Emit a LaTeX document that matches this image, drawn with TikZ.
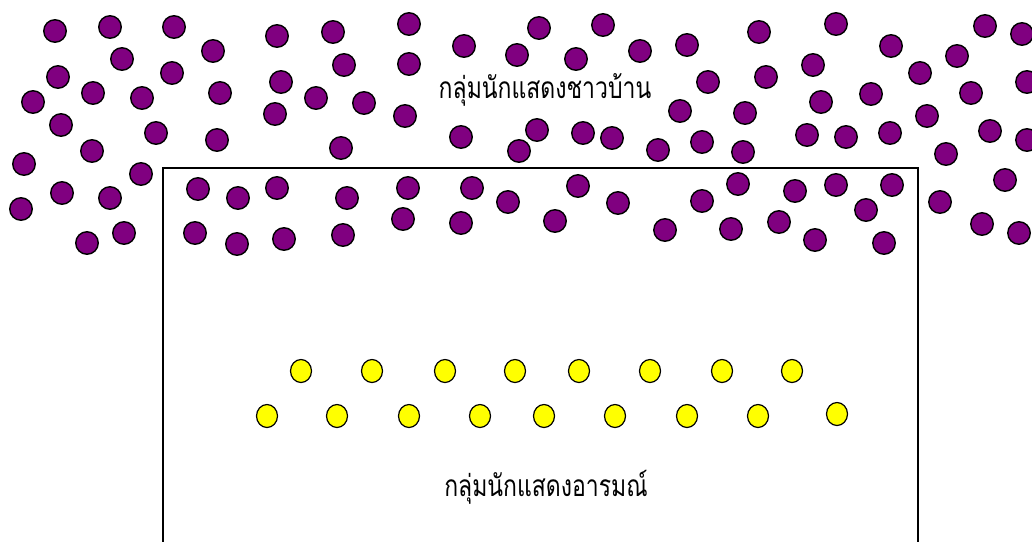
\documentclass[tikz,border=0pt]{standalone}
\usepackage{fontspec}
\usetikzlibrary{shapes.geometric}
\newfontfamily\thaifont[Script=Thai]{Loma}
\definecolor{vpurple}{HTML}{800080}
\definecolor{eyellow}{HTML}{FFFF00}
\begin{document}
\begin{tikzpicture}[x=1pt,y=-1pt,
  villager/.style={circle,draw=black,line width=1.4pt,fill=vpurple,minimum size=22.5pt,inner sep=0pt},
  emoter/.style={ellipse,draw=black,line width=1.2pt,fill=eyellow,minimum width=21pt,minimum height=23pt,inner sep=0pt},
  label/.style={font=\thaifont\fontsize{23}{26}\selectfont,inner sep=0pt}]
\useasboundingbox (0,0) rectangle (1032,541);
\clip (0,0) rectangle (1032,541);
\draw[line width=1.3pt] (163,560) -- (163,168) -- (918,168) -- (918,560);
\foreach \x/\y [count=\i] in {55/31,110/27,174/27,213/51,277/36,333/32,344/65,122/59,58/77,172/73,93/93,142/98,220/93,281/82,316/98,33/102,61/125,156/133,217/140,275/114,341/148,92/151,24/164,141/174,62/193,110/198,21/209,124/233,87/243,
409/24,464/46,539/28,603/25,517/55,576/59,640/51,687/45,409/64,364/103,405/116,680/111,461/137,537/130,583/133,612/138,519/151,658/150,
759/32,836/24,891/46,985/26,1022/34,708/82,766/77,813/65,920/73,957/56,745/113,821/102,871/94,971/93,1027/82,702/142,743/152,807/135,846/137,890/133,927/116,990/131,1027/140,946/154,
1005/180,940/202,982/224,1019/233,
198/189,238/198,277/188,347/198,195/233,237/244,284/239,343/235,408/188,472/188,508/202,578/186,618/203,403/219,461/223,555/221,665/230,702/201,738/184,795/191,836/185,892/185,866/210,731/229,779/222,815/240,884/243}
  \node[villager] (v\i) at (\x,\y) {};
\foreach \x [count=\i] in {301,372,445,515,579,650,722,792}
  \node[emoter] (a\i) at (\x,371) {};
\foreach \x/\y [count=\i] in {267/416,337/416,409/416,480/416,544/416,615/416,687/416,758/416,837/414}
  \node[emoter] (b\i) at (\x,\y) {};
\node[label] (t1) at (545,90) {\scalebox{1}[1.3]{กลุ่มนักแสดงชาวบ้าน}};
\node[label] (t2) at (546,487) {\scalebox{1}[1.3]{กลุ่มนักแสดงอารมณ์}};
\end{tikzpicture}
\end{document}
